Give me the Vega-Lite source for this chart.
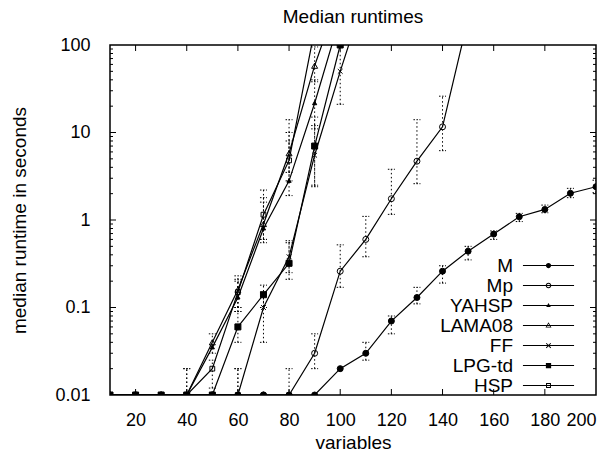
{
  "$schema": "https://vega.github.io/schema/vega-lite/v6.json",
  "width": 486,
  "height": 350,
  "autosize": {"type": "none"},
  "padding": {"left": 110, "top": 45, "right": 17, "bottom": 57},
  "background": "white",
  "title": {"text": "Median runtimes", "font": "Liberation Sans", "fontSize": 19, "fontWeight": "normal", "color": "black", "offset": 9},
  "datasets": {
    "xticks": [{"v":20},{"v":40},{"v":60},{"v":80},{"v":100},{"v":120},{"v":140},{"v":160},{"v":180}],
    "ymajor": [{"v":0.1},{"v":1},{"v":10}],
    "yminor": [{"v":0.02},{"v":0.03},{"v":0.04},{"v":0.05},{"v":0.06},{"v":0.07},{"v":0.08},{"v":0.09},{"v":0.2},{"v":0.3},{"v":0.4},{"v":0.5},{"v":0.6},{"v":0.7},{"v":0.8},{"v":0.9},{"v":2},{"v":3},{"v":4},{"v":5},{"v":6},{"v":7},{"v":8},{"v":9},{"v":20},{"v":30},{"v":40},{"v":50},{"v":60},{"v":70},{"v":80},{"v":90}]
  },
  "data": {"values": [
    {"s":"M","x":10,"y":0.01},{"s":"M","x":20,"y":0.01},{"s":"M","x":30,"y":0.01},{"s":"M","x":40,"y":0.01},{"s":"M","x":50,"y":0.01},{"s":"M","x":60,"y":0.01},{"s":"M","x":70,"y":0.01},{"s":"M","x":80,"y":0.01},{"s":"M","x":90,"y":0.01},
    {"s":"M","x":100,"y":0.02},{"s":"M","x":110,"y":0.03,"lo":0.025,"hi":0.04},{"s":"M","x":120,"y":0.07,"lo":0.05,"hi":0.08},{"s":"M","x":130,"y":0.13,"lo":0.11,"hi":0.17},{"s":"M","x":140,"y":0.26,"lo":0.19,"hi":0.3},{"s":"M","x":150,"y":0.44,"lo":0.35,"hi":0.5},{"s":"M","x":160,"y":0.69,"lo":0.6,"hi":0.75},{"s":"M","x":170,"y":1.09,"lo":0.96,"hi":1.19},{"s":"M","x":180,"y":1.32,"lo":1.21,"hi":1.48},{"s":"M","x":190,"y":2.02,"lo":1.8,"hi":2.3},{"s":"M","x":200,"y":2.4,"lo":2.05,"hi":2.85},
    {"s":"Mp","x":10,"y":0.01},{"s":"Mp","x":20,"y":0.01},{"s":"Mp","x":30,"y":0.01},{"s":"Mp","x":40,"y":0.01,"lo":0.01,"hi":0.02},{"s":"Mp","x":50,"y":0.01},{"s":"Mp","x":60,"y":0.01,"lo":0.01,"hi":0.02},{"s":"Mp","x":70,"y":0.01},{"s":"Mp","x":80,"y":0.01,"lo":0.01,"hi":0.02},{"s":"Mp","x":90,"y":0.03,"lo":0.02,"hi":0.05},{"s":"Mp","x":100,"y":0.26,"lo":0.17,"hi":0.52},{"s":"Mp","x":110,"y":0.6,"lo":0.38,"hi":1.1},{"s":"Mp","x":120,"y":1.75,"lo":1.16,"hi":3.8},{"s":"Mp","x":130,"y":4.7,"lo":2.6,"hi":14},{"s":"Mp","x":140,"y":11.6,"lo":6.2,"hi":26},{"s":"Mp","x":150,"y":200},
    {"s":"YAHSP","x":10,"y":0.01},{"s":"YAHSP","x":20,"y":0.01},{"s":"YAHSP","x":30,"y":0.01},{"s":"YAHSP","x":40,"y":0.01},{"s":"YAHSP","x":50,"y":0.035},{"s":"YAHSP","x":60,"y":0.13,"lo":0.09,"hi":0.2},{"s":"YAHSP","x":70,"y":0.8,"lo":0.55,"hi":1.6},{"s":"YAHSP","x":80,"y":2.8,"lo":1.9,"hi":8},{"s":"YAHSP","x":90,"y":21.6,"lo":11,"hi":40},{"s":"YAHSP","x":100,"y":210},
    {"s":"LAMA08","x":10,"y":0.01},{"s":"LAMA08","x":20,"y":0.01},{"s":"LAMA08","x":30,"y":0.01},{"s":"LAMA08","x":40,"y":0.01,"lo":0.01,"hi":0.02},{"s":"LAMA08","x":50,"y":0.04,"lo":0.03,"hi":0.05},{"s":"LAMA08","x":60,"y":0.16,"lo":0.1,"hi":0.23},{"s":"LAMA08","x":70,"y":0.9,"lo":0.6,"hi":1.8},{"s":"LAMA08","x":80,"y":5.8,"lo":3.5,"hi":14},{"s":"LAMA08","x":90,"y":58,"lo":38,"hi":95},{"s":"LAMA08","x":100,"y":400},
    {"s":"FF","x":10,"y":0.01},{"s":"FF","x":20,"y":0.01},{"s":"FF","x":30,"y":0.01},{"s":"FF","x":40,"y":0.01},{"s":"FF","x":50,"y":0.01},{"s":"FF","x":60,"y":0.01,"lo":0.01,"hi":0.02},{"s":"FF","x":70,"y":0.1,"lo":0.04,"hi":0.15},{"s":"FF","x":80,"y":0.38,"lo":0.25,"hi":0.55},{"s":"FF","x":90,"y":5.5,"lo":2.4,"hi":12},{"s":"FF","x":100,"y":50,"lo":21,"hi":100},{"s":"FF","x":110,"y":400},
    {"s":"LPG-td","x":10,"y":0.01},{"s":"LPG-td","x":20,"y":0.01},{"s":"LPG-td","x":30,"y":0.01},{"s":"LPG-td","x":40,"y":0.01},{"s":"LPG-td","x":50,"y":0.01},{"s":"LPG-td","x":60,"y":0.06,"lo":0.04,"hi":0.09},{"s":"LPG-td","x":70,"y":0.14,"lo":0.1,"hi":0.18},{"s":"LPG-td","x":80,"y":0.32,"lo":0.21,"hi":0.58},{"s":"LPG-td","x":90,"y":7,"lo":2.5,"hi":15},{"s":"LPG-td","x":100,"y":100},
    {"s":"HSP","x":10,"y":0.01},{"s":"HSP","x":20,"y":0.01},{"s":"HSP","x":30,"y":0.01},{"s":"HSP","x":40,"y":0.01},{"s":"HSP","x":50,"y":0.02,"lo":0.012,"hi":0.025},{"s":"HSP","x":60,"y":0.15,"lo":0.1,"hi":0.21},{"s":"HSP","x":70,"y":1.15,"lo":0.6,"hi":2.2},{"s":"HSP","x":80,"y":4.8,"lo":2.8,"hi":10},{"s":"HSP","x":90,"y":150}
  ]},
  "resolve": {"axis": {"x": "independent", "y": "independent"}, "scale": {"shape": "independent"}},
  "layer": [
    {
      "mark": {"type": "line", "clip": true, "color": "black", "strokeWidth": 1.2},
      "encoding": {
        "x": {"field": "x", "type": "quantitative", "scale": {"domain": [10, 200], "nice": false, "zero": false},
          "axis": {"orient": "bottom", "values": [20,40,60,80,100,120,140,160,180,200], "ticks": false, "tickSize": 0, "grid": false, "domain": false, "labelPadding": 16, "title": "variables", "titlePadding": 4}},
        "y": {"field": "y", "type": "quantitative", "scale": {"type": "log", "domain": [0.01, 100], "nice": false},
          "axis": {"orient": "left", "values": [0.01,0.1,1,10,100], "ticks": false, "tickSize": 0, "grid": false, "domain": false,
            "labelExpr": "datum.value == 0.01 ? '0.01' : datum.value == 0.1 ? '0.1' : datum.value == 1 ? '1' : datum.value == 10 ? '10' : '100'",
            "labelPadding": 20, "title": "median runtime in seconds", "titlePadding": 25}},
        "detail": {"field": "s"}
      }
    },
    {
      "data": {"name": "xticks"},
      "mark": {"type": "tick", "orient": "vertical", "size": 12, "thickness": 1, "color": "black", "opacity": 1, "clip": true},
      "encoding": {"x": {"field": "v", "type": "quantitative", "axis": null}, "y": {"datum": 0.01, "type": "quantitative", "axis": null}}
    },
    {
      "data": {"name": "xticks"},
      "mark": {"type": "tick", "orient": "vertical", "size": 12, "thickness": 1, "color": "black", "opacity": 1, "clip": true},
      "encoding": {"x": {"field": "v", "type": "quantitative", "axis": null}, "y": {"datum": 100, "type": "quantitative", "axis": null}}
    },
    {
      "data": {"name": "ymajor"},
      "mark": {"type": "tick", "orient": "horizontal", "size": 12, "thickness": 1, "color": "black", "opacity": 1, "clip": true},
      "encoding": {"y": {"field": "v", "type": "quantitative", "axis": null}, "x": {"datum": 10, "type": "quantitative", "axis": null}}
    },
    {
      "data": {"name": "ymajor"},
      "mark": {"type": "tick", "orient": "horizontal", "size": 12, "thickness": 1, "color": "black", "opacity": 1, "clip": true},
      "encoding": {"y": {"field": "v", "type": "quantitative", "axis": null}, "x": {"datum": 200, "type": "quantitative", "axis": null}}
    },
    {
      "data": {"name": "yminor"},
      "mark": {"type": "tick", "orient": "horizontal", "size": 6, "thickness": 1, "color": "black", "opacity": 1, "clip": true},
      "encoding": {"y": {"field": "v", "type": "quantitative", "axis": null}, "x": {"datum": 10, "type": "quantitative", "axis": null}}
    },
    {
      "data": {"name": "yminor"},
      "mark": {"type": "tick", "orient": "horizontal", "size": 6, "thickness": 1, "color": "black", "opacity": 1, "clip": true},
      "encoding": {"y": {"field": "v", "type": "quantitative", "axis": null}, "x": {"datum": 200, "type": "quantitative", "axis": null}}
    },
    {
      "transform": [{"filter": "isValid(datum.lo) && datum.hi > datum.lo"}],
      "mark": {"type": "rule", "clip": true, "color": "black", "strokeWidth": 1, "strokeDash": [1.5, 2.5]},
      "encoding": {
        "x": {"field": "x", "type": "quantitative", "axis": null},
        "y": {"field": "lo", "type": "quantitative", "axis": null},
        "y2": {"field": "hi"}
      }
    },
    {
      "transform": [{"filter": "isValid(datum.lo) && datum.hi > datum.lo"}],
      "mark": {"type": "point", "clip": true, "shape": "M-1,0H1", "size": 49, "filled": false, "stroke": "black", "strokeWidth": 1, "strokeDash": [1.5, 1.5], "opacity": 1},
      "encoding": {
        "x": {"field": "x", "type": "quantitative", "axis": null},
        "y": {"field": "lo", "type": "quantitative", "axis": null}
      }
    },
    {
      "transform": [{"filter": "isValid(datum.lo) && datum.hi > datum.lo"}],
      "mark": {"type": "point", "clip": true, "shape": "M-1,0H1", "size": 49, "filled": false, "stroke": "black", "strokeWidth": 1, "strokeDash": [1.5, 1.5], "opacity": 1},
      "encoding": {
        "x": {"field": "x", "type": "quantitative", "axis": null},
        "y": {"field": "hi", "type": "quantitative", "axis": null}
      }
    },
    {
      "mark": {"type": "point", "clip": true, "size": 36, "filled": false, "stroke": "black", "strokeWidth": 1, "opacity": 1},
      "encoding": {
        "x": {"field": "x", "type": "quantitative", "axis": null},
        "y": {"field": "y", "type": "quantitative", "axis": null},
        "shape": {"field": "s", "type": "nominal",
          "scale": {"domain": ["M","Mp","YAHSP","LAMA08","FF","LPG-td","HSP"],
            "range": ["circle","circle","M0,-0.75L0.7,0.5L-0.7,0.5Z","triangle-up","M-0.8,-0.8L0.8,0.8M-0.8,0.8L0.8,-0.8","square","M-0.8,-0.8H0.8V0.8H-0.8Z"]},
          "legend": null},
        "fill": {"field": "s", "type": "nominal",
          "scale": {"domain": ["M","Mp","YAHSP","LAMA08","FF","LPG-td","HSP"],
            "range": ["black","transparent","black","transparent","transparent","black","transparent"]},
          "legend": null}
      }
    },
    {
      "transform": [{"filter": "false"}],
      "mark": {"type": "point", "filled": true, "color": "black", "size": 49, "opacity": 1},
      "encoding": {
        "x": {"field": "x", "type": "quantitative", "axis": null},
        "y": {"field": "y", "type": "quantitative", "axis": null},
        "shape": {"field": "s", "type": "nominal",
          "scale": {"domain": ["M","Mp","YAHSP","LAMA08","FF","LPG-td","HSP"],
            "range": [
              "M-7.3,-0.15H7.3V0.15H-7.3ZM0.75,0A0.75,0.75 0 1,1 -0.75,0A0.75,0.75 0 1,1 0.75,0Z",
              "M-7.3,-0.15H7.3V0.15H-7.3ZM0.8,0A0.8,0.8 0 1,1 -0.8,0A0.8,0.8 0 1,1 0.8,0ZM0.5,0A0.5,0.5 0 1,0 -0.5,0A0.5,0.5 0 1,0 0.5,0Z",
              "M-7.3,-0.15H7.3V0.15H-7.3ZM0,-0.7L0.65,0.45L-0.65,0.45Z",
              "M-7.3,-0.15H7.3V0.15H-7.3ZM0,-0.95L0.85,0.6L-0.85,0.6ZM0,-0.52L-0.5,0.37L0.5,0.37Z",
              "M-7.3,-0.15H7.3V0.15H-7.3ZM-0.75,-0.55L-0.55,-0.75L0.75,0.55L0.55,0.75ZM0.55,-0.75L0.75,-0.55L-0.55,0.75L-0.75,0.55Z",
              "M-7.3,-0.15H7.3V0.15H-7.3ZM-0.75,-0.75H0.75V0.75H-0.75Z",
              "M-7.3,-0.15H7.3V0.15H-7.3ZM-0.7,-0.7H0.7V0.7H-0.7ZM-0.42,-0.42V0.42H0.42V-0.42Z"
            ]},
          "legend": {"orient": "none", "legendX": 429, "legendY": 211, "title": null, "padding": 0, "offset": 0,
            "labelFont": "Liberation Sans", "labelFontSize": 19, "labelColor": "black", "labelAlign": "right", "labelOffset": -45,
            "symbolSize": 49, "symbolFillColor": "black", "symbolStrokeWidth": 0, "symbolOpacity": 1, "rowPadding": -1}}
      }
    }
  ],
  "config": {
    "view": {"stroke": "black", "strokeWidth": 1.5},
    "axis": {"labelFont": "Liberation Sans", "labelFontSize": 18, "labelColor": "black", "titleFont": "Liberation Sans", "titleFontSize": 19, "titleFontWeight": "normal", "titleColor": "black"}
  }
}
